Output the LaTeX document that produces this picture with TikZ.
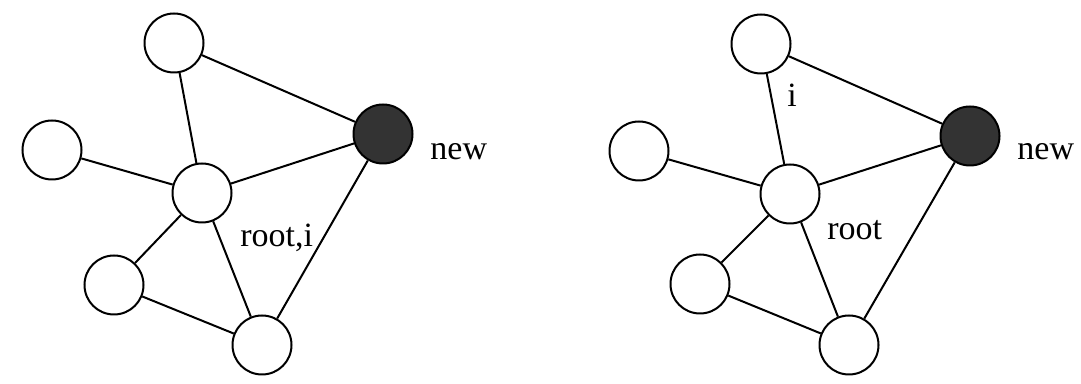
\documentclass[tikz,border=0pt]{standalone}
\usepackage{fontspec}
\setmainfont{Liberation Serif}
\begin{document}
\begin{tikzpicture}[x=0.5pt, y=0.5pt,
  vertex/.style={circle, draw, line width=1pt, minimum size=29.5pt, inner sep=0},
  newvertex/.style={vertex, fill=black!80},
  edge/.style={line width=1pt},
  tag/.style={font=\fontsize{17}{20}\selectfont, inner sep=0, anchor=base west}]

  \useasboundingbox (0,0) rectangle (1081,384);

  % Left graph: root and i coincide
  \node[vertex] (ltop) at (174,341) {};
  \node[vertex] (lleft) at (52,234) {};
  \node[vertex] (lroot) at (202,191) {};
  \node[newvertex] (lnew) at (383,250) {};
  \node[vertex] (lbl) at (114,99) {};
  \node[vertex] (lbot) at (262,39) {};
  \draw[edge] (ltop) -- (lroot) (ltop) -- (lnew)
    (lleft) -- (lroot) (lroot) -- (lnew)
    (lroot) -- (lbl) (lroot) -- (lbot)
    (lbl) -- (lbot) (lnew) -- (lbot);
  \node[tag] (lnewtag) at (430,224) {new};
  \node[tag] (lroottag) at (240,137) {root,i};

  % Right graph: i above root
  \node[vertex] (rtop) at (761,340) {};
  \node[vertex] (rleft) at (639,233) {};
  \node[vertex] (rroot) at (790,190) {};
  \node[newvertex] (rnew) at (970,248) {};
  \node[vertex] (rbl) at (700,100) {};
  \node[vertex] (rbot) at (849,39) {};
  \draw[edge] (rtop) -- (rroot) (rtop) -- (rnew)
    (rleft) -- (rroot) (rroot) -- (rnew)
    (rroot) -- (rbl) (rroot) -- (rbot)
    (rbl) -- (rbot) (rnew) -- (rbot);
  \node[tag] (rnewtag) at (1017,224) {new};
  \node[tag] (rroottag) at (827,144) {root};
  \node[tag] (ritag) at (787,277) {i};

\end{tikzpicture}
\end{document}
